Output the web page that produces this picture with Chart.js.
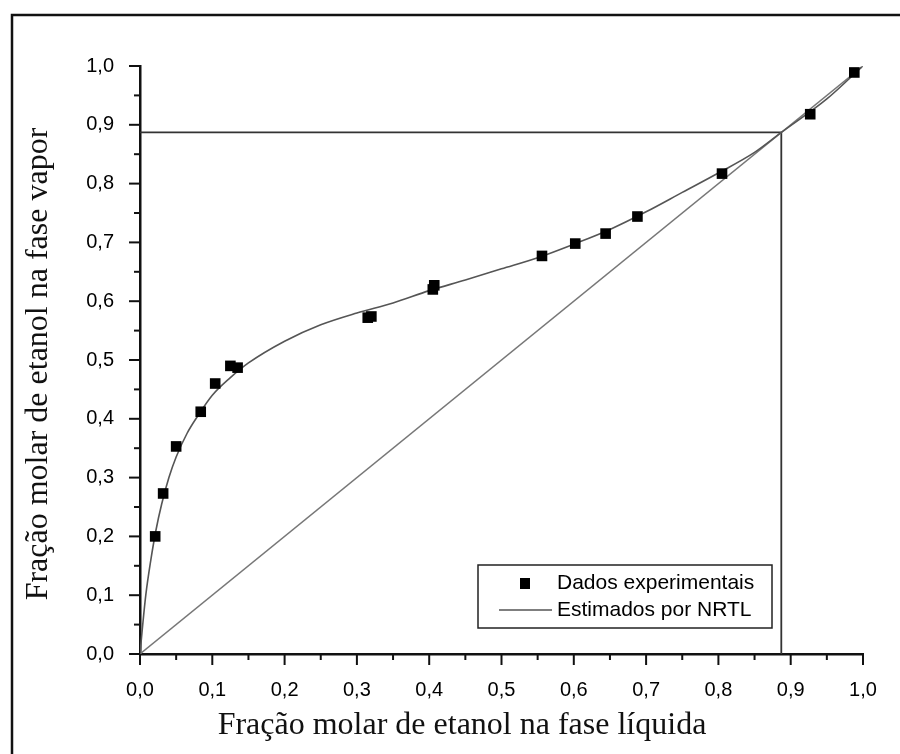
<!DOCTYPE html>
<html>
<head>
<meta charset="utf-8">
<title>Equilíbrio líquido-vapor etanol</title>
<script src="https://cdn.jsdelivr.net/npm/chart.js@4.4.1/dist/chart.umd.min.js"></script>
<style>
  body { margin: 0; background: #fff; }
  canvas { display: block; }
</style>
</head>
<body>
<canvas id="elvChart" width="900" height="754"></canvas>
<script>
// Dados experimentais (fração molar líquido x vapor)
const expX = [0.021, 0.032, 0.050, 0.084, 0.104, 0.125, 0.135, 0.315, 0.320, 0.405, 0.407, 0.556, 0.602, 0.644, 0.688, 0.805, 0.927, 0.988];
const expY = [0.200, 0.273, 0.353, 0.412, 0.460, 0.490, 0.487, 0.572, 0.574, 0.620, 0.627, 0.677, 0.698, 0.715, 0.744, 0.817, 0.918, 0.989];

// Curva estimada pelo modelo NRTL
const nrtlX = [0, 0.003, 0.008, 0.015, 0.022, 0.030, 0.040, 0.050, 0.065, 0.080, 0.100, 0.125, 0.150, 0.200, 0.250, 0.300, 0.350, 0.400, 0.450, 0.500, 0.550, 0.600, 0.650, 0.700, 0.750, 0.800, 0.850, 0.887, 0.950, 0.998];
const nrtlY = [0, 0.040, 0.100, 0.160, 0.210, 0.255, 0.300, 0.335, 0.375, 0.405, 0.440, 0.470, 0.495, 0.532, 0.560, 0.580, 0.597, 0.618, 0.636, 0.655, 0.674, 0.697, 0.722, 0.752, 0.785, 0.818, 0.853, 0.887, 0.944, 0.998];

// Diagonal y = x e ponto azeotrópico
const diagX = [0, 1];
const azeotropo = 0.887;

// Ticks dos eixos
const tickStep = 0.1;
const minorStep = 0.05;

const toPoints = (xs, ys) => xs.map((x, i) => ({ x: x, y: ys[i] }));

// Moldura externa da figura
const framePlugin = {
  id: 'frame',
  beforeDraw(chart) {
    const ctx = chart.ctx;
    ctx.save();
    ctx.fillStyle = '#fff';
    ctx.fillRect(0, 0, chart.width, chart.height);
    ctx.strokeStyle = '#111';
    ctx.lineWidth = 2.5;
    ctx.strokeRect(12, 15, chart.width + 20, chart.height + 20);
    ctx.restore();
  }
};

// Ticks principais e secundários, para fora dos eixos
const ticksPlugin = {
  id: 'outerTicks',
  afterDraw(chart) {
    const ctx = chart.ctx;
    const xs = chart.scales.x, ys = chart.scales.y;
    ctx.save();
    ctx.strokeStyle = '#111';
    ctx.lineWidth = 2;
    const n = Math.round(1 / minorStep);
    for (let i = 0; i <= n; i++) {
      const v = i * minorStep;
      const len = i % 2 === 0 ? 11 : 6;
      const px = xs.getPixelForValue(v);
      ctx.beginPath();
      ctx.moveTo(px, xs.top);
      ctx.lineTo(px, xs.top + len);
      ctx.stroke();
      const py = ys.getPixelForValue(v);
      ctx.beginPath();
      ctx.moveTo(ys.right, py);
      ctx.lineTo(ys.right - len, py);
      ctx.stroke();
    }
    ctx.restore();
  }
};

// Títulos dos eixos
const axisTitlesPlugin = {
  id: 'axisTitles',
  afterDraw(chart) {
    const ctx = chart.ctx;
    ctx.save();
    ctx.fillStyle = '#111';
    ctx.font = '32px "Liberation Serif", "Times New Roman", serif';
    ctx.textAlign = 'center';
    ctx.textBaseline = 'middle';
    ctx.fillText('Fração molar de etanol na fase líquida', 462, 726);
    ctx.translate(39, 364);
    ctx.rotate(-Math.PI / 2);
    ctx.fillText('Fração molar de etanol na fase vapor', 0, 0);
    ctx.restore();
  }
};

// Legenda em caixa no canto inferior direito
const boxLegendPlugin = {
  id: 'boxLegend',
  afterDraw(chart) {
    const ctx = chart.ctx;
    const ds = chart.data.datasets;
    const box = { x: 478, y: 565, w: 294, h: 63 };
    ctx.save();
    ctx.fillStyle = '#fff';
    ctx.fillRect(box.x, box.y, box.w, box.h);
    ctx.strokeStyle = '#222';
    ctx.lineWidth = 1.5;
    ctx.strokeRect(box.x, box.y, box.w, box.h);

    ctx.font = '21px "Liberation Sans", Arial, sans-serif';
    ctx.textBaseline = 'middle';
    ctx.textAlign = 'left';

    // marcador
    let y = 583;
    ctx.fillStyle = ds[0].backgroundColor;
    ctx.fillRect(520, y - 5, 10, 11);
    ctx.fillStyle = '#000';
    ctx.fillText(ds[0].label, 557, y);

    // linha
    y = 610;
    ctx.strokeStyle = ds[1].borderColor;
    ctx.lineWidth = 1.5;
    ctx.beginPath();
    ctx.moveTo(499, y);
    ctx.lineTo(552, y);
    ctx.stroke();
    ctx.fillText(ds[1].label, 557, y);
    ctx.restore();
  }
};

const tickFont = { family: '"Liberation Sans", Arial, sans-serif', size: 20 };
const fmt = v => v.toFixed(1).replace('.', ',');

const ctx = document.getElementById('elvChart').getContext('2d');
const elvChart = new Chart(ctx, {
  type: 'scatter',
  data: {
    datasets: [
      {
        label: 'Dados experimentais',
        data: toPoints(expX, expY),
        pointStyle: 'rect',
        pointRadius: 7.5,
        pointBorderWidth: 0,
        backgroundColor: '#000',
        borderColor: '#000',
        showLine: false,
        order: 0
      },
      {
        label: 'Estimados por NRTL',
        data: toPoints(nrtlX, nrtlY),
        showLine: true,
        pointRadius: 0,
        borderColor: '#555',
        borderWidth: 1.6,
        cubicInterpolationMode: 'monotone',
        order: 1
      },
      {
        label: 'y = x',
        data: toPoints(diagX, diagX),
        showLine: true,
        pointRadius: 0,
        borderColor: '#777',
        borderWidth: 1.4,
        order: 2
      },
      {
        label: 'azeotropo',
        data: [{ x: 0, y: azeotropo }, { x: azeotropo, y: azeotropo }, { x: azeotropo, y: 0 }],
        showLine: true,
        pointRadius: 0,
        borderColor: '#333',
        borderWidth: 1.8,
        order: 3
      }
    ]
  },
  options: {
    responsive: false,
    devicePixelRatio: 1,
    animation: false,
    layout: {
      padding: { top: 66, right: 37, left: 0, bottom: 0 }
    },
    plugins: {
      legend: { display: false },
      tooltip: { enabled: false }
    },
    scales: {
      x: {
        type: 'linear',
        min: 0,
        max: 1,
        grid: { display: false },
        border: { display: true, color: '#111', width: 2.5 },
        ticks: {
          stepSize: tickStep,
          padding: 16,
          color: '#000',
          font: tickFont,
          maxRotation: 0,
          callback: fmt
        },
        afterFit: scale => { scale.height = 100; }
      },
      y: {
        type: 'linear',
        min: 0,
        max: 1,
        grid: { display: false },
        border: { display: true, color: '#111', width: 2.5 },
        ticks: {
          stepSize: tickStep,
          padding: 18,
          color: '#000',
          font: tickFont,
          callback: fmt
        },
        afterFit: scale => { scale.width = 140; }
      }
    }
  },
  plugins: [framePlugin, ticksPlugin, axisTitlesPlugin, boxLegendPlugin]
});
</script>
</body>
</html>
